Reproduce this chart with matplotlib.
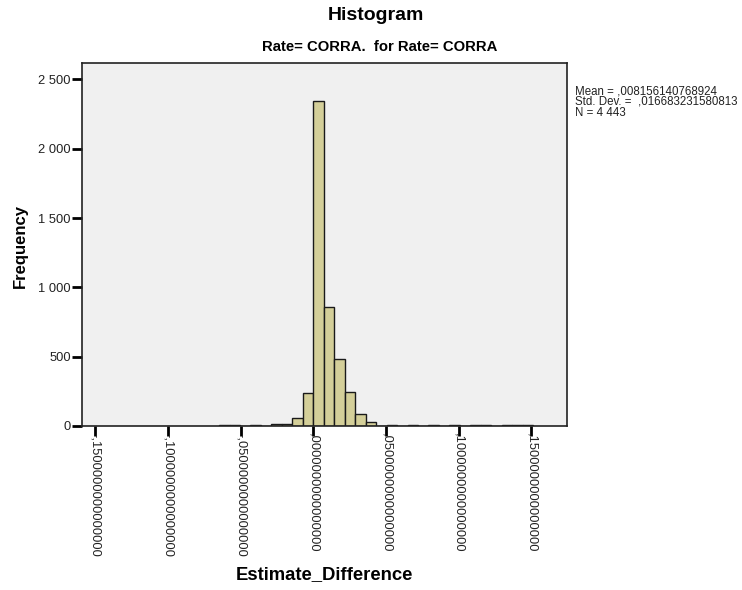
import matplotlib.pyplot as plt
import numpy as np
from matplotlib.ticker import FixedLocator, FuncFormatter

plt.switch_backend("Agg")
plt.rcParams["font.family"] = ["Liberation Sans", "DejaVu Sans"]

# histogram bins: index k covers [k * bin_width, (k + 1) * bin_width)
bin_width = 0.0072
bin_index = list(range(-9, 21))
counts = [
    6, 6, 0, 10, 0, 16, 18, 58, 238,          # -9 .. -1
    2345, 855, 480, 245, 85, 28,              # 0 .. 5
    0, 7, 0, 7, 0, 6, 0, 6, 0, 5, 5, 0, 5, 6, 6,  # 6 .. 20
]
x_ticks = [-0.15, -0.10, -0.05, 0.0, 0.05, 0.10, 0.15]
y_ticks = [0, 500, 1000, 1500, 2000, 2500]

mean_text = ",008156140768924"
std_text = ",016683231580813"
n_text = "4 443"


def spss_decimal(v, pos=None):
    s = f"{v:.16f}"
    if s.startswith("-0."):
        return "-," + s[3:]
    if s.startswith("0."):
        return "," + s[2:]
    return s.replace(".", ",")


def spss_thousands(v, pos=None):
    return f"{int(v):,}".replace(",", " ")


edges = np.array(bin_index) * bin_width

fig = plt.figure(figsize=(7.42, 5.90), dpi=100)
ax = fig.add_axes([82 / 742, 1 - 426 / 590, 485 / 742, 363 / 590])
ax.set_facecolor("#f0f0f0")

ax.bar(edges, counts, width=bin_width, align="edge",
       color="#d4cf99", edgecolor="#1a1a1a", linewidth=1.0)

ax.set_xlim(-0.1591, 0.1745)
ax.set_ylim(0, 2619)

ax.xaxis.set_major_locator(FixedLocator(x_ticks))
ax.xaxis.set_major_formatter(FuncFormatter(spss_decimal))
ax.yaxis.set_major_locator(FixedLocator(y_ticks))
ax.yaxis.set_major_formatter(FuncFormatter(spss_thousands))

ax.tick_params(axis="both", direction="out", length=7, width=2, color="black",
               labelcolor="#222222")
ax.tick_params(axis="x", labelrotation=-90, labelsize=9.3, pad=-2)
ax.tick_params(axis="y", labelsize=9.3, pad=1)
for lbl in ax.get_xticklabels():
    lbl.set_va("top")
    lbl.set_ha("center")

for spine in ax.spines.values():
    spine.set_color("#222222")
    spine.set_linewidth(1.2)

fig.text(375.5 / 742, 1 - 16 / 590, "Histogram", ha="center", va="center",
         fontsize=14, fontweight="bold")
fig.text(380 / 742, 1 - 47 / 590, "Rate= CORRA.  for Rate= CORRA", ha="center",
         va="center", fontsize=10.7, fontweight="bold")
fig.text(324.5 / 742, 1 - 575 / 590, "Estimate_Difference", ha="center", va="center",
         fontsize=13.3, fontweight="bold")
fig.text(20 / 742, 1 - 246 / 590, "Frequency", ha="center", va="center",
         rotation=90, fontsize=12, fontweight="bold")

stats = f"Mean = {mean_text}\nStd. Dev. =  {std_text}\nN = {n_text}"
fig.text(575 / 742, 1 - 85 / 590, stats, ha="left", va="top", fontsize=8.3,
         linespacing=0.88, color="#222222")

fig.savefig("out.png", dpi=100)
plt.close(fig)
